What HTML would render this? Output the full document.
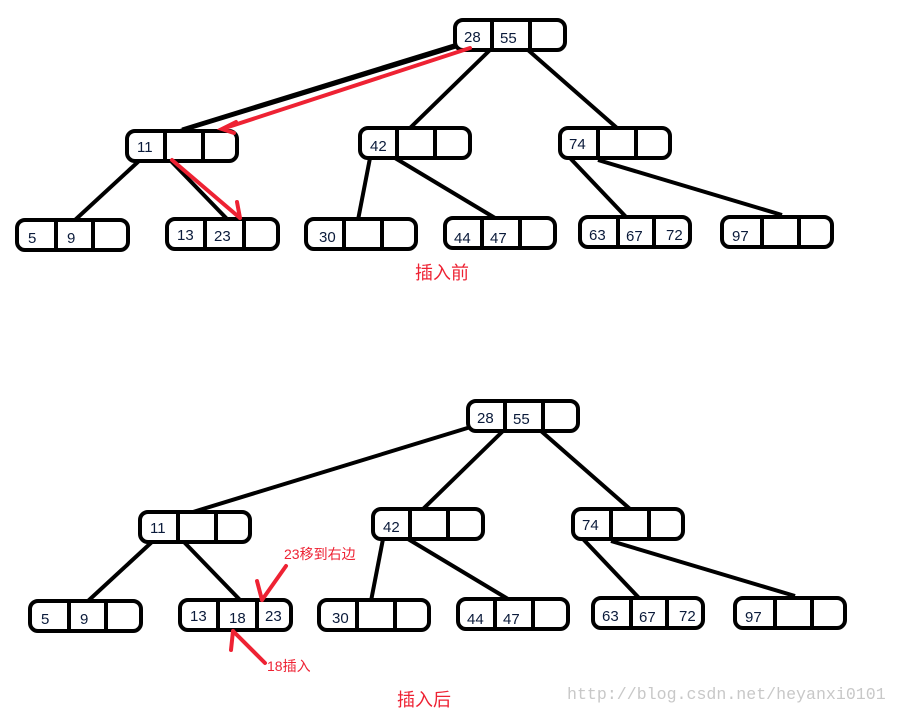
<!DOCTYPE html>
<html><head><meta charset="utf-8"><style>
html,body{margin:0;padding:0;background:#fff;width:902px;height:715px;overflow:hidden}
svg text{font-family:"Liberation Sans","Noto Sans CJK SC",sans-serif}
.n rect{fill:#fff;stroke:#000;stroke-width:4}
.n line,.l line{stroke:#000;stroke-width:4}
.t{font-size:15px;fill:#0a1a3a}
.r{stroke:#ee2233;stroke-width:4;fill:none;stroke-linecap:round}
</style></head><body>
<svg width="902" height="715" viewBox="0 0 902 715">
<defs>
<g id="tree">
 <g class="l">
  <line x1="461" y1="45" x2="180" y2="131"/>
  <line x1="490" y1="50" x2="410" y2="128"/>
  <line x1="528" y1="50" x2="617" y2="128"/>
  <line x1="140" y1="160" x2="75" y2="220"/>
  <line x1="170" y1="160" x2="228" y2="220"/>
  <line x1="370" y1="158" x2="358" y2="220"/>
  <line x1="395" y1="158" x2="495" y2="218"/>
  <line x1="570" y1="158" x2="627" y2="218"/>
  <line x1="598" y1="160" x2="782" y2="215"/>
 </g>
 <g class="n">
  <rect x="455" y="20" width="110" height="30" rx="8"/><line x1="492" y1="20" x2="492" y2="50"/><line x1="530" y1="20" x2="530" y2="50"/>
  <rect x="127" y="131" width="110" height="30" rx="8"/><line x1="165" y1="131" x2="165" y2="161"/><line x1="203" y1="131" x2="203" y2="161"/>
  <rect x="360" y="128" width="110" height="30" rx="8"/><line x1="397" y1="128" x2="397" y2="158"/><line x1="435" y1="128" x2="435" y2="158"/>
  <rect x="560" y="128" width="110" height="30" rx="8"/><line x1="598" y1="128" x2="598" y2="158"/><line x1="636" y1="128" x2="636" y2="158"/>
  <rect x="17" y="220" width="111" height="30" rx="8"/><line x1="56" y1="220" x2="56" y2="251"/><line x1="93" y1="220" x2="93" y2="251"/>
  <rect x="306" y="219" width="110" height="30" rx="8"/><line x1="344" y1="219" x2="344" y2="249"/><line x1="382" y1="219" x2="382" y2="249"/>
  <rect x="445" y="218" width="110" height="30" rx="8"/><line x1="482" y1="218" x2="482" y2="248"/><line x1="520" y1="218" x2="520" y2="248"/>
  <rect x="580" y="217" width="110" height="30" rx="8"/><line x1="618" y1="217" x2="618" y2="248"/><line x1="654" y1="217" x2="654" y2="248"/>
  <rect x="722" y="217" width="110" height="30" rx="8"/><line x1="762" y1="217" x2="762" y2="248"/><line x1="799" y1="217" x2="799" y2="248"/>
 </g>
 <g class="t">
  <text x="464" y="42">28</text><text x="500" y="43">55</text>
  <text x="137" y="152">11</text><text x="370" y="151">42</text><text x="569" y="149">74</text>
  <text x="28" y="243">5</text><text x="67" y="243">9</text>
  <text x="319" y="242">30</text>
  <text x="454" y="243">44</text><text x="490" y="243">47</text>
  <text x="589" y="240">63</text><text x="626" y="241">67</text><text x="666" y="240">72</text>
  <text x="732" y="241">97</text>
 </g>
</g>
</defs>
<use href="#tree"/>
<line x1="457" y1="44" x2="182" y2="129" stroke="#000" stroke-width="3"/>
<g class="n">
 <rect x="167" y="219" width="111" height="30" rx="8"/><line x1="205" y1="219" x2="205" y2="250"/><line x1="244" y1="219" x2="244" y2="250"/>
</g>
<text class="t" x="177" y="240">13</text><text class="t" x="214" y="241">23</text>
<path class="r" d="M470 48 L222 129 M236 122 L222 129 L234 133"/>
<path class="r" d="M172 160 L240 218 M237 202 L240 218"/>
<text x="415" y="279" font-size="18" fill="#ee2233">插入前</text>

<g transform="translate(13,381)"><use href="#tree"/>
 <g class="n">
  <rect x="167" y="219" width="111" height="30" rx="8"/><line x1="205" y1="219" x2="205" y2="250"/><line x1="244" y1="219" x2="244" y2="250"/>
 </g>
 <text class="t" x="177" y="240">13</text><text class="t" x="216" y="242">18</text><text class="t" x="252" y="240">23</text>
</g>
<path class="r" d="M286 566 L262 600 M257 581 L262 600"/>
<path class="r" d="M265 663 L233 631 M231 650 L233 631"/>
<text x="284" y="559" font-size="14" fill="#ee2233">23移到右边</text>
<text x="267" y="671" font-size="14" fill="#ee2233">18插入</text>
<text x="397" y="706" font-size="18" fill="#ee2233">插入后</text>
<text x="567" y="699" font-size="16.6" fill="#c8c8c8" style="font-family:'Liberation Mono',monospace">http://blog.csdn.net/heyanxi0101</text>
</svg>
</body></html>
